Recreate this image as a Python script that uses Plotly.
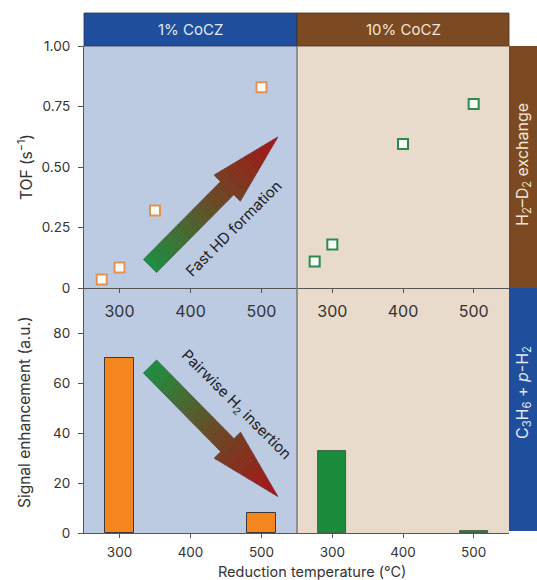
import plotly.graph_objects as go

# ---- data -------------------------------------------------------------
temps_1pct_tof = [275, 300, 350, 500]
tof_1pct = [0.035, 0.085, 0.32, 0.83]
temps_10pct_tof = [275, 300, 400, 500]
tof_10pct = [0.11, 0.18, 0.595, 0.76]

temps_bar = [300, 500]
signal_1pct = [70, 8]
signal_10pct = [33, 0.8]

x_ticks = [300, 400, 500]
tof_ticks = [0, 0.25, 0.5, 0.75, 1.0]
tof_ticktext = ["0", "0.25", "0.50", "0.75", "1.00"]
sig_ticks = [0, 20, 40, 60, 80]

panel_titles = ["1% CoCZ", "10% CoCZ"]
row_titles = ["H<sub>2</sub>–D<sub>2</sub> exchange",
              "C<sub>3</sub>H<sub>6</sub> + <i>p</i>-H<sub>2</sub>"]

# ---- geometry / style -------------------------------------------------
W, H = 537, 580
ML, MR, MT, MB = 84, 28, 13, 47
PW, PH = W - ML - MR, H - MT - MB
XSPLIT = 213 / PW
Y_MID = (533 - 288) / PH
Y_TOP = (533 - 46) / PH
HDR_TOP = 1.0
X_RANGE = [250, 550]
TOF_RANGE = [0, 1]
SIG_RANGE = [0, 98]

FONT = "Inter"
TXT = "#333333"
AX = "#555555"
BG_LEFT = "#BCCAE2"
BG_RIGHT = "#E8DBCB"
BLUE = "#1F4E9C"
BROWN = "#7B4A22"
ORANGE = "#F5861F"
GREEN = "#1B8B3C"

fig = go.Figure()

# TOF scatter
fig.add_trace(go.Scatter(x=temps_1pct_tof, y=tof_1pct, mode="markers",
                         marker=dict(symbol="square", size=10, color="#FFFDF8",
                                     line=dict(color="#E39250", width=2)),
                         xaxis="x", yaxis="y", showlegend=False))
fig.add_trace(go.Scatter(x=temps_10pct_tof, y=tof_10pct, mode="markers",
                         marker=dict(symbol="square", size=10, color="#FAFFFA",
                                     line=dict(color="#2E8A4A", width=2)),
                         xaxis="x2", yaxis="y2", showlegend=False))

# Signal enhancement bars
fig.add_trace(go.Bar(x=temps_bar, y=signal_1pct, width=40,
                     marker=dict(color=ORANGE, line=dict(color="#3A3A3A", width=1)),
                     xaxis="x3", yaxis="y3", showlegend=False))
fig.add_trace(go.Bar(x=temps_bar, y=signal_10pct, width=40,
                     marker=dict(color=GREEN, line=dict(color="#2F4A35", width=0.8)),
                     xaxis="x4", yaxis="y4", showlegend=False))


def xax(dom, anchor, standoff, size):
    return dict(domain=dom, range=X_RANGE, anchor=anchor, tickvals=x_ticks,
                ticks="outside", ticklen=4, tickcolor=AX, tickwidth=1,
                showline=True, linecolor=AX, linewidth=1, showgrid=False,
                zeroline=False, tickfont=dict(family=FONT, size=size, color=TXT),
                ticklabelstandoff=standoff, automargin=False)


def yax(dom, rng, anchor, vals, text=None, show=True):
    d = dict(domain=dom, range=rng, anchor=anchor, showgrid=False,
             zeroline=False, automargin=False)
    if show:
        d.update(tickvals=vals, ticktext=text if text else [str(v) for v in vals],
                 ticks="outside", ticklen=5, tickcolor=AX, tickwidth=1,
                 showline=True, linecolor=AX, linewidth=1.2,
                 tickfont=dict(family=FONT, size=13.5, color=TXT),
                 ticklabelstandoff=5)
    else:
        d.update(showticklabels=False, ticks="", showline=False)
    return d


fig.update_layout(
    width=W, height=H,
    margin=dict(l=ML, r=MR, t=MT, b=MB, autoexpand=False),
    paper_bgcolor="white", plot_bgcolor="rgba(0,0,0,0)",
    font=dict(family=FONT, color=TXT),
    bargap=0,
    xaxis=xax([0, XSPLIT], "y", 5, 16),
    xaxis2=xax([XSPLIT, 1], "y2", 5, 16),
    xaxis3=xax([0, XSPLIT], "y3", 3, 13.5),
    xaxis4=xax([XSPLIT, 1], "y4", 3, 13.5),
    yaxis=yax([Y_MID, Y_TOP], TOF_RANGE, "x", tof_ticks, tof_ticktext),
    yaxis2=yax([Y_MID, Y_TOP], TOF_RANGE, "x2", tof_ticks, show=False),
    yaxis3=yax([0, Y_MID], SIG_RANGE, "x3", sig_ticks),
    yaxis4=yax([0, Y_MID], SIG_RANGE, "x4", sig_ticks, show=False),
)

shapes = []
# panel backgrounds
shapes.append(dict(type="rect", xref="paper", yref="paper", x0=0, x1=XSPLIT,
                   y0=0, y1=Y_TOP, fillcolor=BG_LEFT, line_width=0, layer="below"))
shapes.append(dict(type="rect", xref="paper", yref="paper", x0=XSPLIT, x1=1,
                   y0=0, y1=Y_TOP, fillcolor=BG_RIGHT, line_width=0, layer="below"))
# column headers
shapes.append(dict(type="rect", xref="paper", yref="paper", x0=0, x1=XSPLIT,
                   y0=Y_TOP, y1=HDR_TOP, fillcolor=BLUE,
                   line=dict(color="#2A3550", width=0.8), layer="below"))
shapes.append(dict(type="rect", xref="paper", yref="paper", x0=XSPLIT, x1=1,
                   y0=Y_TOP, y1=HDR_TOP, fillcolor=BROWN,
                   line=dict(color="#4A3020", width=0.8), layer="below"))
# row label strips
XR = (W - ML) / PW
shapes.append(dict(type="rect", xref="paper", yref="paper", x0=1, x1=XR + 0.01,
                   y0=Y_MID, y1=Y_TOP, fillcolor=BROWN, line_width=0, layer="below"))
shapes.append(dict(type="rect", xref="paper", yref="paper", x0=1, x1=XR + 0.01,
                   y0=(533 - 531) / PH, y1=Y_MID, fillcolor=BLUE, line_width=0,
                   layer="below"))
# divider between the two catalysts
shapes.append(dict(type="line", xref="paper", yref="paper", x0=XSPLIT, x1=XSPLIT,
                   y0=0, y1=Y_TOP, line=dict(color="#7A7A7A", width=1.5)))


# ---- gradient arrows --------------------------------------------------
def data_to_px(x, y, xdom, ydom, yrng):
    fx = xdom[0] + (x - X_RANGE[0]) / (X_RANGE[1] - X_RANGE[0]) * (xdom[1] - xdom[0])
    fy = ydom[0] + (y - yrng[0]) / (yrng[1] - yrng[0]) * (ydom[1] - ydom[0])
    return ML + fx * PW, MT + (1 - fy) * PH


def px_to_paper(p):
    return (p[0] - ML) / PW, 1 - (p[1] - MT) / PH


STOPS = [(0.0, (28, 142, 62)), (0.5, (105, 72, 35)), (1.0, (168, 16, 20))]


def grad(f):
    for (f0, c0), (f1, c1) in zip(STOPS, STOPS[1:]):
        if f <= f1:
            t = (f - f0) / (f1 - f0)
            c = [round(a + (b - a) * t) for a, b in zip(c0, c1)]
            return "rgb(%d,%d,%d)" % tuple(c)
    return "rgb(%d,%d,%d)" % STOPS[-1][1]


def arrow(tail, tip, shaft_w=18.5, head_w=37, head_len=72, n=60):
    (x0, y0), (x1, y1) = tail, tip
    dx, dy = x1 - x0, y1 - y0
    L = (dx * dx + dy * dy) ** 0.5
    ux, uy = dx / L, dy / L
    nx, ny = -uy, ux
    Ls = L - head_len

    def pt(t, w):
        return (x0 + ux * t + nx * w, y0 + uy * t + ny * w)

    def half(t, in_head):
        return head_w / 2 * (L - t) / head_len if in_head else shaft_w / 2

    out = []
    ns = int(n * Ls / L)
    nh = n - ns
    segs = [(Ls * i / ns, Ls * (i + 1) / ns, False) for i in range(ns)]
    segs += [(Ls + head_len * i / nh, Ls + head_len * (i + 1) / nh, True) for i in range(nh)]
    for t0, t1, hd in segs:
        w0, w1 = half(t0, hd), half(t1, hd)
        pts = [pt(t0, w0), pt(t1, w1), pt(t1, -w1), pt(t0, -w0)]
        pp = [px_to_paper(p) for p in pts]
        path = "M " + " L ".join("%.5f %.5f" % q for q in pp) + " Z"
        col = grad((t0 + t1) / 2 / L)
        out.append(dict(type="path", xref="paper", yref="paper", path=path,
                        fillcolor=col, line=dict(color=col, width=0.6)))
    outline = [pt(0, shaft_w / 2), pt(Ls, shaft_w / 2), pt(Ls, head_w / 2), pt(L, 0),
               pt(Ls, -head_w / 2), pt(Ls, -shaft_w / 2), pt(0, -shaft_w / 2)]
    pp = [px_to_paper(p) for p in outline]
    out.append(dict(type="path", xref="paper", yref="paper",
                    path="M " + " L ".join("%.5f %.5f" % q for q in pp) + " Z",
                    line=dict(color="rgba(70,70,110,0.35)", width=1)))
    return out


top_dom, bot_dom = [Y_MID, Y_TOP], [0, Y_MID]
left_dom = [0, XSPLIT]
shapes += arrow(data_to_px(343, 0.091, left_dom, top_dom, TOF_RANGE),
                data_to_px(523, 0.624, left_dom, top_dom, TOF_RANGE))
shapes += arrow(data_to_px(343, 66.6, left_dom, bot_dom, SIG_RANGE),
                data_to_px(523, 14.6, left_dom, bot_dom, SIG_RANGE))

fig.update_layout(shapes=shapes)


def label(text, px, py, size=13, color=TXT, angle=0):
    return dict(text=text, xref="paper", yref="paper",
                x=(px - ML) / PW, y=(H - MB - py) / PH,
                xanchor="center", yanchor="middle", textangle=angle,
                showarrow=False, font=dict(family=FONT, size=size, color=color))


ann = [
    # column headers
    label(panel_titles[0], 190.5, 29.5, size=15, color="#E2E8F5"),
    label(panel_titles[1], 403, 29.5, size=15, color="#F4E6D4"),
    # row labels
    label(row_titles[0], 523, 165, size=16, color="#F3E6D6", angle=-90),
    label(row_titles[1], 523, 393, size=16, color="#E2E8F5", angle=-90),
    # axis titles
    label("TOF (s<sup>−1</sup>)", 25, 167, size=15.5, angle=-90),
    label("Signal enhancement (a.u.)", 25, 412, size=15.5, angle=-90),
    label("Reduction temperature (°C)", 312, 571, size=14.5),
    # arrow captions
    label("Fast HD formation", 233.5, 229, size=15, color="#222222", angle=-45),
    label("Pairwise H<sub>2</sub> insertion", 236, 404, size=15, color="#222222", angle=45),
]
fig.update_layout(annotations=ann)

fig.write_html("out.html")
